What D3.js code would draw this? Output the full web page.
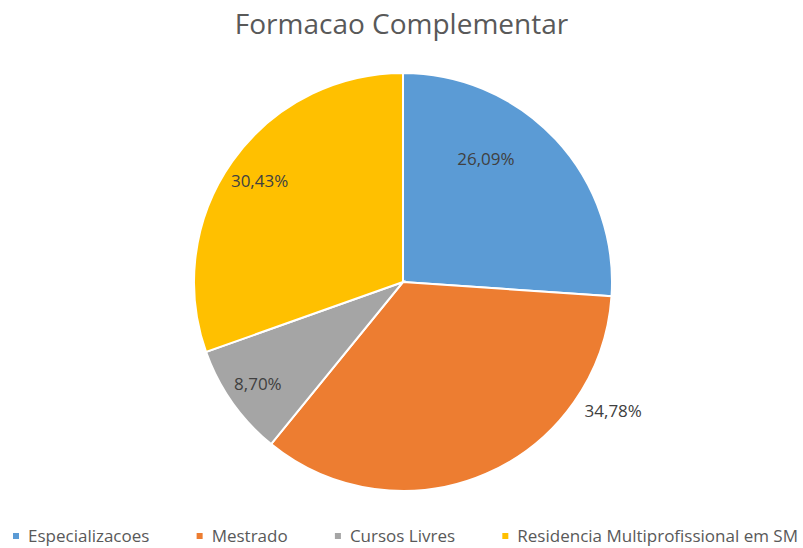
<!DOCTYPE html>
<meta charset="utf-8">
<style>
body { margin: 0; background: #fff; }
.title { font: 28px "Open Sans", sans-serif; fill: #595959; }
.label { font: 17px "Open Sans", sans-serif; fill: #404040; }
.legend text { font: 17px "Open Sans", sans-serif; fill: #595959; }
.slice { stroke: #fff; stroke-width: 2px; }
</style>
<body>
<div id="chart"></div>
<script src="https://cdnjs.cloudflare.com/ajax/libs/d3/7.8.5/d3.min.js"></script>
<script>
var categories = ["Especializacoes", "Mestrado", "Cursos Livres", "Residencia Multiprofissional em SM"];
var values = [26.09, 34.78, 8.70, 30.43];
var labels = ["26,09%", "34,78%", "8,70%", "30,43%"];
var colors = ["#5b9bd5", "#ed7d31", "#a5a5a5", "#ffc000"];

var width = 803, height = 548,
    cx = 403, cy = 282, radius = 209;

// excel "best fit" label placement: radius factor and angle shift (deg) per slice
var labelFit = [[0.71, -13], [1.18, -35], [0.85, 0], [0.84, 0]];

var svg = d3.select("#chart").append("svg")
    .attr("width", width)
    .attr("height", height);

svg.append("text")
    .attr("class", "title")
    .attr("x", width / 2)
    .attr("y", 34)
    .attr("text-anchor", "middle")
    .text("Formacao Complementar");

var pie = d3.pie().sort(null).value(function(d) { return d; });
var arc = d3.arc().innerRadius(0).outerRadius(radius);
var arcs = pie(values);

var g = svg.append("g")
    .attr("transform", "translate(" + cx + "," + cy + ")");

g.selectAll(".slice")
    .data(arcs)
  .enter().append("path")
    .attr("class", "slice")
    .attr("d", arc)
    .style("fill", function(d, i) { return colors[i]; });

g.selectAll(".label")
    .data(arcs)
  .enter().append("text")
    .attr("class", "label")
    .attr("text-anchor", "middle")
    .attr("dy", "0.35em")
    .attr("transform", function(d, i) {
      var a = (d.startAngle + d.endAngle) / 2 + labelFit[i][1] * Math.PI / 180,
          r = radius * labelFit[i][0];
      return "translate(" + (r * Math.sin(a)) + "," + (-r * Math.cos(a)) + ")";
    })
    .text(function(d, i) { return labels[i]; });

// legend, spread across 13..798
var legend = svg.append("g").attr("class", "legend")
    .attr("transform", "translate(0,536)");

var items = categories.map(function(c, i) {
  var item = legend.append("g");
  item.append("rect")
    .attr("x", 0).attr("y", -3)
    .attr("width", 6).attr("height", 6)
    .style("fill", colors[i]);
  var t = item.append("text")
    .attr("x", 15).attr("y", 0)
    .attr("dy", "0.35em")
    .text(c);
  return {g: item, w: 15 + t.node().getComputedTextLength()};
});
var total = d3.sum(items, function(d) { return d.w; });
var gap = (798 - 13 - total) / (items.length - 1);
var x = 13;
items.forEach(function(d) {
  d.g.attr("transform", "translate(" + x + ",0)");
  x += d.w + gap;
});
</script>
</body>
